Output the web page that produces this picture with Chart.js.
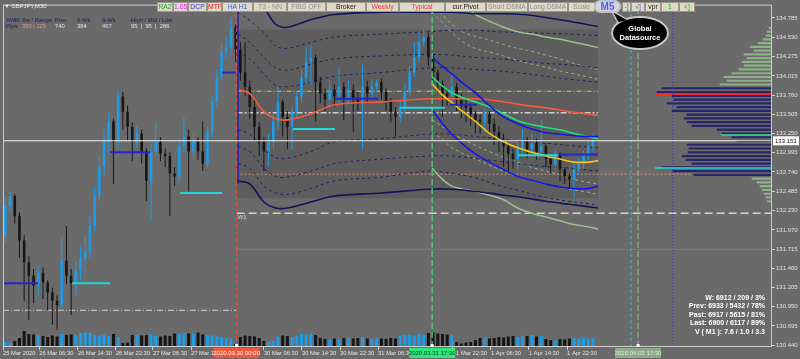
<!DOCTYPE html>
<html>
<head>
<meta charset="utf-8">
<title>GBPJPY,M30</title>
<script src="https://cdn.jsdelivr.net/npm/chart.js@4.4.1/dist/chart.umd.min.js"></script>
<style>
html,body{margin:0;padding:0;background:#6a6a6a;}
#wrap{position:relative;width:800px;height:359px;overflow:hidden;background:#6a6a6a;font-family:"Liberation Sans",Arial,sans-serif;}
#c{position:absolute;left:0;top:0;}
.t{position:absolute;white-space:nowrap;}
.btn{position:absolute;top:2px;height:10px;box-sizing:border-box;background:#dedac8;border:1px solid #9a978a;font-size:6.8px;line-height:8px;text-align:center;overflow:hidden;white-space:nowrap;}
.info{position:absolute;font-size:5.8px;line-height:6px;white-space:nowrap;}
.stat{position:absolute;right:35px;font-size:7px;font-weight:bold;color:#ffffff;white-space:nowrap;line-height:8px;text-align:right;}
</style>
</head>
<body>
<div id="wrap">
<canvas id="c" width="800" height="359"></canvas>
<div class="t" style="left:4px;top:3px;font-size:5.8px;color:#f2f2f2;line-height:6px;">▼ GBPJPY,M30</div>
<div class="info" style="left:6px;top:17px;color:#1c1c5c;">AWR: 6w / Range</div>
<div class="info" style="left:55px;top:17px;color:#1c1c5c;">Prev</div>
<div class="info" style="left:77px;top:17px;color:#1c1c5c;">6-Wk</div>
<div class="info" style="left:102px;top:17px;color:#1c1c5c;">9-Wk</div>
<div class="info" style="left:131px;top:17px;color:#1c1c5c;">High / Mid / Low</div>
<div class="info" style="left:6px;top:23px;color:#1c1c5c;">Pips:</div>
<div class="info" style="left:22px;top:23px;color:#d99a8a;">380 | 225</div>
<div class="info" style="left:55px;top:23px;color:#e2e2e2;">740</div>
<div class="info" style="left:77px;top:23px;color:#e2e2e2;">384</div>
<div class="info" style="left:102px;top:23px;color:#e2e2e2;">467</div>
<div class="info" style="left:131px;top:23px;color:#e2e2e2;">95&nbsp; | &nbsp;95&nbsp; | &nbsp;286</div>
<div id="toolbar"></div>
<div class="t" style="left:594px;top:0px;width:27px;height:13px;box-sizing:border-box;border:2px solid #bfc0c8;border-radius:6px;background:#d6d6d6;color:#4d5df5;font-weight:bold;font-size:10px;line-height:9px;text-align:center;">M5</div>
<svg width="800" height="359" style="position:absolute;left:0;top:0;pointer-events:none;">
<path d="M618 23 L612 11 L626 19 Z" fill="#000" stroke="#c8c8c8" stroke-width="1.5"/>
<ellipse cx="640" cy="33" rx="28" ry="16" fill="#000" stroke="#c8c8c8" stroke-width="2"/>
<path d="M619 22 L614 13 L627 20 Z" fill="#000"/>
<text x="640" y="31" text-anchor="middle" fill="#ffffff" font-size="7.5" font-weight="bold" font-family="Liberation Sans, Arial, sans-serif">Global</text>
<text x="640" y="40" text-anchor="middle" fill="#ffffff" font-size="7.5" font-weight="bold" font-family="Liberation Sans, Arial, sans-serif">Datasource</text>
</svg>
<div class="stat" style="top:293.5px">W: 6912 / 209 / 3%</div>
<div class="stat" style="top:302px">Prev: 6933 / 5432 / 78%</div>
<div class="stat" style="top:310.5px">Past: 6917 / 5615 / 81%</div>
<div class="stat" style="top:319px">Last: 6900 / 6117 / 89%</div>
<div class="stat" style="top:327.5px">V ( M1 ): 7.6 / 1.0 / 3.3</div>
</div>
<script>
// ---------------- DATA ----------------
// hourly candles (index = hour slot from 25 Mar 22:30)
const firstOpen = 131.89;
const closes = [132.29,132.42,132.15,131.83,131.54,131.36,131.23,131.40,131.27,131.14,
 131.03,130.97,131.56,131.36,131.26,131.43,131.59,131.69,132.02,132.42,
 132.81,133.14,133.41,133.14,133.74,133.54,133.34,133.14,133.25,133.01,
 132.62,133.01,133.14,132.98,132.95,132.72,132.68,133.08,133.21,133.01,
 133.14,133.01,132.85,133.27,133.67,134.00,134.33,134.39,134.66,134.36,
 134.06,133.87,133.60,133.34,133.14,133.01,133.14,133.41,133.67,133.47,
 133.34,133.54,133.74,134.00,134.20,134.26,133.93,133.78,133.70,133.83,
 133.74,133.87,133.72,133.83,133.70,133.67,133.87,133.78,133.87,133.93,
 133.80,133.67,133.54,133.47,133.60,133.80,134.06,134.26,134.46,134.53,
 134.26,134.06,133.91,133.78,133.74,133.87,133.70,133.62,133.59,133.51,
 133.43,133.41,133.51,133.38,133.27,133.17,133.08,132.98,132.91,133.04,
 133.14,133.04,133.12,133.01,133.08,132.91,132.84,132.97,132.77,132.68,
 132.64,132.77,132.85,132.95,133.08,133.153];
const highs = [132.42,132.48,132.45,132.20,131.90,131.62,131.45,131.50,131.47,131.30,
 131.20,131.10,131.87,132.02,131.45,131.55,131.75,131.90,132.15,132.55,
 132.95,133.30,133.54,133.45,133.83,133.80,133.62,133.40,133.35,133.30,
 133.05,133.10,133.41,133.20,133.05,133.00,132.80,133.15,133.47,133.30,
 133.25,133.20,133.41,133.35,133.75,134.10,134.46,134.53,134.79,134.70,
 134.46,134.46,133.95,133.70,133.40,133.20,133.25,133.50,133.87,133.70,
 133.55,133.60,133.80,134.10,134.39,134.42,134.30,134.00,133.85,133.96,
 133.90,134.13,133.93,133.95,133.90,133.80,134.16,133.95,133.95,133.96,
 133.98,133.85,133.72,133.60,133.68,133.90,134.15,134.46,134.59,134.63,
 134.58,134.30,134.10,133.95,133.85,134.02,133.92,133.78,133.70,133.65,
 133.55,133.50,133.58,133.55,133.45,133.35,133.25,133.12,133.05,133.12,
 133.30,133.20,133.25,133.18,133.43,133.12,132.95,133.05,133.00,132.80,
 132.72,132.85,132.92,133.02,133.15,133.25];
const lows = [131.79,132.22,132.05,131.60,131.03,130.77,131.00,131.10,131.05,130.90,
 130.71,130.64,130.90,131.25,130.84,131.10,131.30,131.40,131.60,131.95,
 132.35,132.70,133.00,132.58,133.05,133.30,133.15,132.88,133.05,132.85,
 132.35,132.09,132.95,132.88,132.80,132.15,132.55,132.60,133.00,132.48,
 132.90,132.90,132.75,132.80,133.20,133.60,133.95,134.25,134.30,134.20,
 133.95,133.75,133.45,133.15,132.95,132.75,132.81,133.05,133.30,133.21,
 133.04,133.04,133.45,133.65,133.90,133.90,133.41,133.65,133.55,133.62,
 133.60,133.65,133.43,133.65,133.27,133.55,133.04,133.65,133.70,133.80,
 133.70,133.55,133.40,133.21,133.40,133.52,133.75,134.00,134.20,134.40,
 134.15,133.95,133.80,133.47,133.62,133.65,133.55,133.45,133.40,133.35,
 133.25,133.25,133.27,133.25,133.10,133.00,132.81,132.75,132.78,132.75,
 132.98,132.92,132.98,132.90,132.95,132.80,132.72,132.78,132.62,132.58,
 132.51,132.39,132.70,132.78,132.90,133.00];
const volumes = [500,400,600,900,1600,1300,1250,1200,1100,1000,
 1150,1050,1300,1200,1250,1200,1400,1450,1400,1200,
 1150,1250,1100,1300,1000,400,450,1200,1250,1150,
 1200,1300,1100,1050,1150,1100,1350,1300,1400,1350,
 1300,1450,1250,1200,1150,1100,1000,900,850,300,
 1000,1150,1100,1050,900,600,550,600,1050,1150,
 1100,1000,1150,1300,1250,1350,1200,900,800,700,
 850,750,900,950,850,900,1000,850,800,900,
 850,800,900,850,1100,1200,1250,1150,1300,1200,
 1400,1450,1350,1300,1250,1200,500,350,450,500,
 700,900,950,850,900,1000,950,1050,1100,1000,
 1150,1100,1200,1050,1100,800,700,650,800,750,
 850,900,850,900,850,900];

// axis ticks
const timeTickIdx = [-0.5,7.2,15.4,23.5,31.4,39.5,55.0,63.1,71.2,79.3,95.2,103.3,111.4,119.5];
const timeLabels = ['25 Mar 2020','26 Mar 06:30','26 Mar 14:30','26 Mar 22:30','27 Mar 06:30','27 Mar 14:30',
 '30 Mar 06:30','30 Mar 14:30','30 Mar 22:30','31 Mar 06:30','31 Mar 22:30','1 Apr 06:30','1 Apr 14:30','1 Apr 22:30'];
const priceTicks = [134.785,134.530,134.275,134.015,133.760,133.505,133.250,132.995,132.740,132.485,
 132.230,131.970,131.715,131.460,131.205,130.950,130.695,130.440];
const priceRange = [130.415, 134.961];
const timeRange = [-0.5, 163.1];
const currentPrice = 133.153;

// weekly session indicator bands (x = hour slot)
const bandIdx   = [49.5,52,55,57.5,60,65,70,80,90,95,100,105,110,115,120,126.1];
const navyUpper = [135.25,135.09,134.92,134.70,134.66,134.76,134.83,134.86,134.86,134.86,134.84,134.84,134.83,134.79,134.74,134.67];
const navyLower = [132.62,132.58,132.34,132.26,132.26,132.34,132.42,132.46,132.51,132.51,132.48,132.44,132.40,132.35,132.31,132.26];
const smaLine   = [133.83,133.78,133.54,133.45,133.43,133.51,133.63,133.67,133.71,133.71,133.71,133.68,133.63,133.59,133.54,133.49];
const bandU1 = [134.86,134.75,134.59,134.41,134.38,134.46,134.53,134.57,134.60,134.62,134.62,134.60,134.59,134.58,134.57,134.55];
const bandU2 = [134.57,134.46,134.26,134.12,134.09,134.17,134.24,134.28,134.30,134.29,134.26,134.24,134.21,134.18,134.16,134.12];
const bandU3 = [134.33,134.24,134.04,133.89,133.87,133.93,134.01,134.06,134.12,134.12,134.10,134.08,134.05,134.01,133.97,133.93];
const bandL1 = [133.30,133.24,133.04,132.93,132.92,133.01,133.14,133.18,133.24,133.24,133.21,133.18,133.14,133.12,133.09,133.06];
const bandL2 = [133.08,133.01,132.79,132.68,132.67,132.75,132.85,132.91,132.95,132.95,132.92,132.88,132.84,132.81,132.79,132.75];
const bandL3 = [132.85,132.79,132.55,132.46,132.44,132.52,132.62,132.67,132.75,132.72,132.66,132.56,132.48,132.40,132.35,132.30];

// regression channel from 31 Mar 17:30
const channelIdx = [90.8,93,95,97.5,100,103,106,109,112,115,118,121,124,126.1];
const chanUpper  = [134.26,134.14,134.04,133.91,133.79,133.62,133.47,133.38,133.31,133.26,133.24,133.22,133.21,133.21];
const chanGreen  = [134.00,133.88,133.79,133.72,133.67,133.60,133.51,133.42,133.37,133.33,133.30,133.25,133.21,133.18];
const chanYellow = [133.91,133.76,133.66,133.53,133.41,133.25,133.14,133.06,133.00,132.95,132.91,132.87,132.87,132.89];
const chanLower  = [133.56,133.38,133.24,133.10,132.98,132.87,132.77,132.68,132.63,132.58,132.54,132.52,132.52,132.55];
const sageUpper  = [135.45,135.32,135.12,134.95,134.83,134.74,134.66,134.60,134.57,134.53,134.50,134.46,134.42,134.39];
const sageLower  = [132.79,132.64,132.55,132.51,132.48,132.43,132.37,132.26,132.19,132.14,132.09,132.04,132.01,131.98];
const sageDash1  = [134.99,134.83,134.70,134.59,134.54,134.49,134.43,134.38,134.34,134.29,134.24,134.18,134.13,134.10];
const sageDash2  = [134.86,134.72,134.59,134.46,134.38,134.33,134.28,134.22,134.17,134.13,134.08,134.04,134.00,133.97];
const sageDash3  = [133.43,133.34,133.25,133.17,133.09,133.01,132.93,132.87,132.80,132.75,132.70,132.64,132.60,132.58];
const sageDash4  = [133.27,133.17,133.06,132.98,132.91,132.83,132.75,132.68,132.63,132.58,132.54,132.50,132.47,132.44];

// horizontal levels
const sessionStartIdx = 49.2;
const boxEndIdx = 126.1;
const boxPrices = [134.63, 132.39];
const w1Price = 132.19;
const greenDotPrice = 131.71;
const salmonPrice = 132.71;
const salmonEndIdx = 146;
const yellowPrice = 133.81;
const grayDashPrice = 133.525;
const leftPivotPrice = 130.90;

// short level segments
const cyanSegStart = [14.2,37.2,61.2,84.0,109.1];
const cyanSegEnd   = [22.3,46.1,70.1,93.5,117.6];
const cyanSegPrice = [131.26,132.46,133.31,133.59,132.96];
const blueSegStart = [-0.5,22.3,46.1,70.1,94.6,117.6];
const blueSegEnd   = [6.95,30.8,49.1,79.3,100.3,126.1];
const blueSegPrice = [131.26,133.00,134.06,133.71,133.63,132.97];

// vertical markers
const markerIdx = [49.2, 90.8, 134.6];
const markerLabels = ['2020.03.30 00:00','2020.03.31 17:30','2020.04.02 17:30'];
const sessionLineIdx = 49.5;
const sessionLinePrices = [132.58, 134.86];
const cyanVertIdx = 133.1;
const blueDotVertIdx = 142.0;

// volume profile (right side)
const profilePrices = [134.65,134.60,134.55,134.50,134.45,134.40,134.35,134.30,134.25,134.20,
 134.15,134.10,134.05,134.00,133.95,133.90,133.85,133.80,133.75,133.70,
 133.65,133.60,133.55,133.50,133.45,133.40,133.35,133.30,133.25,133.20,
 133.15,133.10,133.05,133.00,132.95,132.90,132.85,132.80,132.75,132.70,
 132.65,132.60,132.55,132.50,132.45,132.40,132.35];
const profileVols = [3,5,6,9,14,22,18,28,25,30,28,33,40,48,45,52,110,115,100,98,
 105,95,100,85,88,85,80,55,50,40,35,85,83,84,90,86,80,110,99,78,20,15,12,10,8,6,5];
const profileRedPrice = 133.77, profileRedLen = 117;
const profileGreenPrice = 133.23, profileGreenLen = 51;
const profileCyanPrice = 132.79, profileCyanLen = 117;

// ---------------- TOOLBAR ----------------
const toolbar = [
 [157,16,'RA2','#2e9a2e'],[173,15,'1.65','#e030e0'],[188,19,'DCP','#2f3fe0'],[207,15,'MTF','#e82020'],
 [222,31,'HA H1','#3a5ad8'],[253,34,'T3 - NN','#8c8c8c'],[287,39,'FIBS OFF','#8c8c8c'],[326,40,'Broker','#202020'],
 [366,33,'Weekly','#f03a3a'],[399,46,'Typical','#f03a3a'],[445,41,'cur.Pivot','#202020'],[486,42,'Short DSMA','#8c8c8c'],
 [528,40,'Long DSMA','#8c8c8c'],[568,27,'Scale','#8c8c8c'],[622,9,'-]','#3a5ad8'],[631,14,'√]','#3a5ad8'],
 [645,16,'vpr','#202020'],[661,18,'1','#2e9a2e'],[679,16,'<]','#2e9a2e']
];
const tb = document.getElementById('toolbar');
toolbar.forEach(([l,w,txt,col]) => {
  const d = document.createElement('div');
  d.className = 'btn';
  d.style.left = l + 'px'; d.style.width = w + 'px'; d.style.color = col;
  d.textContent = txt;
  tb.appendChild(d);
});

// ---------------- CHART ----------------
const FONT = 'Liberation Sans';
Chart.defaults.font.family = FONT;
const opens = closes.map((c, i) => i === 0 ? firstOpen : closes[i - 1]);
const UP = '#1d9ce8', DOWN = '#161616';
const barColors = closes.map((c, i) => c >= opens[i] ? UP : DOWN);

const pts = (xs, ys) => xs.map((x, i) => ({x, y: ys[i]}));
const hseg = (a, b, p) => [{x: a, y: p}, {x: b, y: p}];
const vseg = (i, lo, hi) => [{x: i, y: lo}, {x: i, y: hi}];
const line = (data, color, width, dash, order, tension) => ({
  type: 'line', data, borderColor: color, borderWidth: width, borderDash: dash || [],
  pointRadius: 0, tension: tension || 0, order, xAxisID: 'x', yAxisID: 'y', fill: false
});

const datasets = [];
// profile
datasets.push({
  type: 'bar', indexAxis: 'y', xAxisID: 'xp', yAxisID: 'yp', grouped: false,
  data: profilePrices.map((p, i) => ({x: profileVols[i], y: p})),
  backgroundColor: profilePrices.map(p => (p >= 133.88 || p <= 132.67) ? '#8fb08a' : '#262668'),
  categoryPercentage: 1, barPercentage: 1, maxBarThickness: 1.5, order: 100
});
const profLine = (p, len, col) => ({type: 'line', xAxisID: 'xp', yAxisID: 'y', data: [{x: 0, y: p}, {x: len, y: p}],
  borderColor: col, borderWidth: 1.5, pointRadius: 0, order: 99});
datasets.push(profLine(profileRedPrice, profileRedLen, '#ff2a2a'));
datasets.push(profLine(profileGreenPrice, profileGreenLen, '#30e080'));
datasets.push(profLine(profileCyanPrice, profileCyanLen, '#30d8d0'));
// volume
datasets.push({
  type: 'bar', xAxisID: 'x', yAxisID: 'y2', grouped: false,
  data: volumes.map((v, i) => ({x: i, y: v})),
  backgroundColor: barColors, maxBarThickness: 3, order: 95
});
// static levels
datasets.push(line(hseg(timeRange[0], sessionStartIdx, leftPivotPrice), '#bdbdbd', 1.2, [6,2,1,2], 90));
datasets.push(line(hseg(sessionStartIdx, timeRange[1], w1Price), '#d9d3b8', 1.5, [8,4], 90));
datasets.push(line(hseg(sessionStartIdx, timeRange[1], greenDotPrice), '#86a85e', 1.2, [1,2], 90));
datasets.push(line(hseg(sessionStartIdx, salmonEndIdx, salmonPrice), '#d6957e', 1, [2,2], 90));
datasets.push(line(hseg(sessionStartIdx, boxEndIdx, yellowPrice), '#d8d024', 1, [5,2,1,2], 90));
datasets.push(line(hseg(sessionStartIdx, boxEndIdx, grayDashPrice), '#cdcdcd', 1.5, [6,2,2,2], 90));
// dashed bands
[bandU1, bandU2, bandU3, bandL1, bandL2, bandL3].forEach(b =>
  datasets.push(line(pts(bandIdx, b), '#20205c', 1, [3,3], 85, 0.35)));
[sageDash1, sageDash2, sageDash3, sageDash4].forEach(b =>
  datasets.push(line(pts(channelIdx, b), '#96b68c', 1, [3,3], 85, 0.35)));
// solid outer bands
datasets.push(line(pts(bandIdx, navyUpper), '#14145a', 1.6, [], 80, 0.35));
datasets.push(line(pts(bandIdx, navyLower), '#14145a', 1.6, [], 80, 0.35));
datasets.push(line(pts(channelIdx, sageUpper), '#9cc08c', 1.5, [], 80, 0.35));
datasets.push(line(pts(channelIdx, sageLower), '#9cc08c', 1.5, [], 80, 0.35));
// candles
datasets.push({
  type: 'bar', xAxisID: 'x', yAxisID: 'y', grouped: false,
  data: closes.map((c, i) => ({x: i, y: [lows[i], highs[i]]})),
  backgroundColor: barColors, maxBarThickness: 1, order: 70
});
datasets.push({
  type: 'bar', xAxisID: 'x', yAxisID: 'y', grouped: false,
  data: closes.map((c, i) => ({x: i, y: [opens[i], c]})),
  backgroundColor: barColors, maxBarThickness: 2.6, order: 65
});
// moving average and channel
datasets.push(line(pts(bandIdx, smaLine), '#f25a3a', 1.6, [], 60, 0.35));
datasets.push(line(pts(channelIdx, chanUpper), '#1414e6', 1.6, [], 55, 0.35));
datasets.push(line(pts(channelIdx, chanLower), '#1414e6', 1.6, [], 55, 0.35));
datasets.push(line(pts(channelIdx, chanGreen), '#22e07e', 1.6, [], 55, 0.35));
datasets.push(line(pts(channelIdx, chanYellow), '#f2c414', 1.6, [], 55, 0.35));
// segments
cyanSegStart.forEach((s, i) => datasets.push(line(hseg(s, cyanSegEnd[i], cyanSegPrice[i]), '#22d8d8', 2, [], 50)));
blueSegStart.forEach((s, i) => datasets.push(line(hseg(s, blueSegEnd[i], blueSegPrice[i]), '#2626c8', 2, [], 50)));
// verticals
datasets.push(line(vseg(markerIdx[0], priceRange[0], priceRange[1]), '#e8553a', 1, [4,3], 45));
datasets.push(line(vseg(sessionLineIdx, sessionLinePrices[0], sessionLinePrices[1]), '#2424a8', 1.6, [], 45));
datasets.push(line(vseg(markerIdx[1], priceRange[0], priceRange[1]), '#4cd884', 1.2, [6,3], 45));
datasets.push(line(vseg(cyanVertIdx, priceRange[0], priceRange[1]), '#3cc4c0', 1, [3,3], 45));
datasets.push(line(vseg(markerIdx[2], priceRange[0], priceRange[1]), '#92b492', 1.2, [6,3], 45));
datasets.push(line(vseg(blueDotVertIdx, priceRange[0], priceRange[1]), '#2f2fd8', 1, [1,2], 45));
// current price
datasets.push(line(hseg(timeRange[0], timeRange[1], currentPrice), '#f2f2f2', 1, [], 40));

const shadePlugin = {
  id: 'shade',
  beforeDatasetsDraw(chart) {
    const {ctx, scales: {x, y}} = chart;
    const x0 = x.getPixelForValue(sessionStartIdx), x1 = x.getPixelForValue(boxEndIdx);
    const y0 = y.getPixelForValue(boxPrices[0]), y1 = y.getPixelForValue(boxPrices[1]);
    ctx.save();
    ctx.fillStyle = '#5d5d5d';
    ctx.fillRect(x0, y0, x1 - x0, y1 - y0);
    ctx.restore();
  }
};
const overlayPlugin = {
  id: 'ov',
  afterDraw(chart) {
    const {ctx, scales: {x, y}, chartArea: a} = chart;
    ctx.save();
    ctx.strokeStyle = '#cdcdcd'; ctx.lineWidth = 1;
    ctx.strokeRect(a.left + 0.5, a.top + 0.5, a.right - a.left - 1, a.bottom - a.top - 1);
    // current price label
    const py = y.getPixelForValue(currentPrice);
    ctx.fillStyle = '#ffffff';
    ctx.fillRect(a.right + 1, py - 4.5, 26, 9);
    ctx.fillStyle = '#111111';
    ctx.font = '6px "' + FONT + '"';
    ctx.textBaseline = 'middle'; ctx.textAlign = 'left';
    ctx.fillText(currentPrice.toFixed(3), a.right + 3, py + 0.5);
    // W1 label
    ctx.fillStyle = '#d8d8d8';
    ctx.textBaseline = 'top';
    ctx.fillText('W1', x.getPixelForValue(sessionStartIdx) + 1, y.getPixelForValue(w1Price) + 1.5);
    // marker squares and time labels
    const bg = ['#f0583c', '#2ee67a', '#8ea98a'];
    const fg = ['#fff2ea', '#0b3d1c', '#dfeadb'];
    markerIdx.forEach((m, i) => {
      const px = x.getPixelForValue(m);
      ctx.fillStyle = '#ffffff';
      ctx.fillRect(px - 1.5, a.bottom - 3, 3, 3);
      ctx.fillStyle = bg[i];
      ctx.fillRect(px - 23, a.bottom + 1, 46, 10);
      ctx.fillStyle = fg[i];
      ctx.textAlign = 'center'; ctx.textBaseline = 'middle';
      ctx.font = '6px "' + FONT + '"';
      ctx.fillText(markerLabels[i], px, a.bottom + 6.5);
    });
    ctx.restore();
  }
};

new Chart(document.getElementById('c'), {
  data: {datasets},
  options: {
    responsive: false, animation: false, devicePixelRatio: 1, events: [],
    layout: {padding: {left: 3, top: 2, right: 0, bottom: 0}},
    plugins: {legend: {display: false}, tooltip: {enabled: false}},
    scales: {
      x: {
        type: 'linear', axis: 'x', position: 'bottom', min: timeRange[0], max: timeRange[1], offset: false,
        afterFit: s => { s.height = 12; },
        afterBuildTicks: s => { s.ticks = timeTickIdx.map(v => ({value: v})); },
        ticks: {autoSkip: false, maxRotation: 0, minRotation: 0, align: 'start', padding: 0,
          font: {size: 5.8, family: FONT}, color: '#e6e6e6',
          callback: (v, i) => timeLabels[i]},
        grid: {display: true, offset: false, drawOnChartArea: false, drawTicks: true, tickLength: 3, color: '#cfcfcf'},
        border: {display: false}
      },
      y: {
        type: 'linear', axis: 'y', position: 'right', min: priceRange[0], max: priceRange[1], offset: false,
        afterFit: s => { s.width = 28; },
        afterBuildTicks: s => { s.ticks = priceTicks.map(v => ({value: v})); },
        ticks: {padding: 1, font: {size: 6, family: FONT}, color: '#e2e2e2',
          callback: v => Number(v).toFixed(3)},
        grid: {display: true, offset: false, drawOnChartArea: false, drawTicks: true, tickLength: 3, color: '#cfcfcf'},
        border: {display: false}
      },
      y2: {type: 'linear', axis: 'y', display: false, offset: false, min: 0, max: 34400, grid: {offset: false}},
      yp: {type: 'linear', axis: 'y', display: false, offset: false, min: priceRange[0], max: priceRange[1], grid: {offset: false}},
      xp: {type: 'linear', axis: 'x', display: false, offset: false, min: 0, max: 769, reverse: true, grid: {offset: false}}
    }
  },
  plugins: [shadePlugin, overlayPlugin]
});
</script>
</body>
</html>
